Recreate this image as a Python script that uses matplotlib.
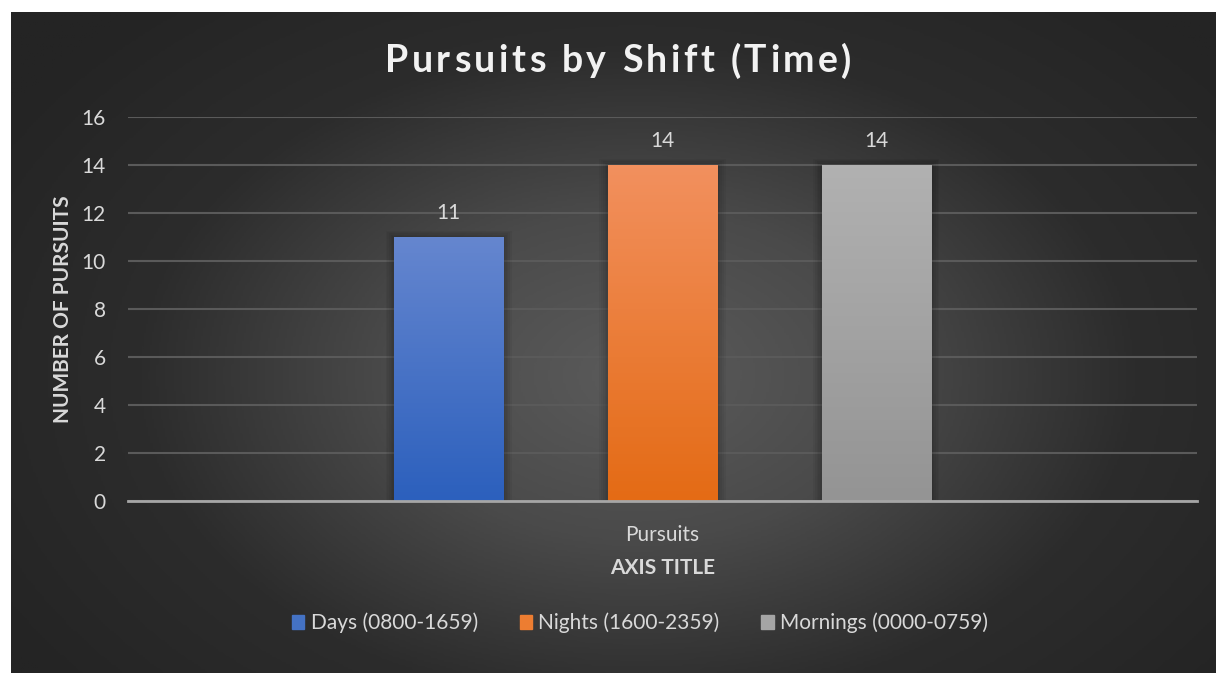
import numpy as np
import matplotlib.pyplot as plt
from matplotlib.colors import LinearSegmentedColormap

# Data
categories = ['Pursuits']
series = ['Days (0800-1659)', 'Nights (1600-2359)', 'Mornings (0000-0759)']
values = [11, 14, 14]
yticks = [0, 2, 4, 6, 8, 10, 12, 14, 16]

# Bar colours (top, bottom) for the vertical gradients
grad_colors = [('#6586cf', '#2c60bd'), ('#f2905e', '#e46b15'), ('#b1b1b1', '#949494')]
solid_colors = ['#4472c4', '#ed7d31', '#a5a5a5']

TEXT = '#d9d9d9'
FONT = 'Lato'
FS = 15

W, H = 1216, 673
fig = plt.figure(figsize=(W / 100, H / 100), dpi=100)
fig.patch.set_facecolor('white')

# Dark radial background of the chart area
bg = fig.add_axes([11 / W, 0, 1 - 11 / W, 1 - 12 / H])
bg.set_axis_off()
yy, xx = np.mgrid[0:1:300j, 0:1:540j]
r = np.sqrt(((xx - 0.52) / 0.62) ** 2 + ((yy - 0.55) / 0.75) ** 2)
r = np.clip(r, 0, 1)
bg_cmap = LinearSegmentedColormap.from_list('bg', ['#5b5b5b', '#4a4a4a', '#2c2c2c', '#242424'])
bg.imshow(r, cmap=bg_cmap, aspect='auto', extent=[0, 1, 0, 1], vmin=0, vmax=1)
bg.set_xlim(0, 1)
bg.set_ylim(0, 1)

# Plot area
ax = fig.add_axes([128 / W, 1 - 501 / H, (1197 - 128) / W, (501 - 117) / H])
ax.set_facecolor('none')
ax.patch.set_alpha(0)

x = np.arange(len(series)) - 1
width = 0.51

# soft shadow round the bars
for k in range(1, 6):
    ax.bar(x, np.array(values) + 0.05 * k, width=width + 0.016 * k, color='black',
           alpha=0.045, linewidth=0, zorder=2)

bars = ax.bar(x, values, width=width, color=solid_colors, zorder=3)

grad = np.linspace(0, 1, 100).reshape(-1, 1)
for b, (top, bottom) in zip(bars, grad_colors):
    cm = LinearSegmentedColormap.from_list('g', [top, bottom])
    bx, by = b.get_x(), b.get_y()
    im = ax.imshow(grad, cmap=cm, aspect='auto', zorder=4,
                   extent=[bx, bx + b.get_width(), by, by + b.get_height()])
    im.set_clip_path(b)
    b.set_alpha(0)

for xi, v in zip(x, values):
    ax.annotate(str(v), (xi, v), xytext=(0, 10), textcoords='offset points',
                ha='center', va='bottom', color=TEXT, fontsize=FS, family=FONT)

ax.set_xlim(-2.5, 2.5)
ax.set_ylim(0, 16)
ax.set_yticks(yticks)
ax.set_yticklabels([str(t) for t in yticks], color=TEXT, fontsize=FS, family=FONT)
ax.set_xticks([0])
ax.set_xticklabels(categories, color=TEXT, fontsize=FS, family=FONT)
ax.tick_params(axis='y', length=0, pad=16)
ax.tick_params(axis='x', length=0, pad=17)
ax.grid(axis='y', color='#5a5a5a', linewidth=1.5, zorder=1)
for s in ['top', 'right', 'left']:
    ax.spines[s].set_visible(False)
ax.spines['bottom'].set_color('#a6a6a6')
ax.spines['bottom'].set_linewidth(2)
ax.spines['bottom'].set_zorder(5)

ax.set_ylabel('NUMBER OF PURSUITS', color=TEXT, fontsize=FS, fontweight='bold',
              family=FONT, labelpad=6)
ax.set_xlabel('AXIS TITLE', color=TEXT, fontsize=FS, fontweight='bold',
              family=FONT, labelpad=10)

# title with letter spacing, one character at a time
title = 'Pursuits by Shift (Time)'
renderer = fig.canvas.get_renderer()
spacing = 3.5
parts = []
for ch in title:
    t = fig.text(0, 1 - 61 / H, ch, ha='left', va='center', color='#f2f2f2',
                 fontsize=27, fontweight='bold', family=FONT)
    w = t.get_window_extent(renderer).width if ch != ' ' else 9.0
    parts.append((t, w))
total = sum(w for _, w in parts) + spacing * (len(parts) - 1)
xpos = 618 - total / 2
for t, w in parts:
    t.set_x(xpos / W)
    xpos += w + spacing

handles = [plt.Rectangle((0, 0), 1, 1, color=c) for c in solid_colors]
fig.legend(handles, series, loc='center', bbox_to_anchor=(640 / W, 1 - 623 / H),
           ncol=3, frameon=False, handlelength=0.6, handleheight=0.6,
           handletextpad=0.3, columnspacing=2.0,
           prop={'family': FONT, 'size': FS}, labelcolor=TEXT)

fig.savefig('out.png', dpi=100, facecolor=fig.get_facecolor())
